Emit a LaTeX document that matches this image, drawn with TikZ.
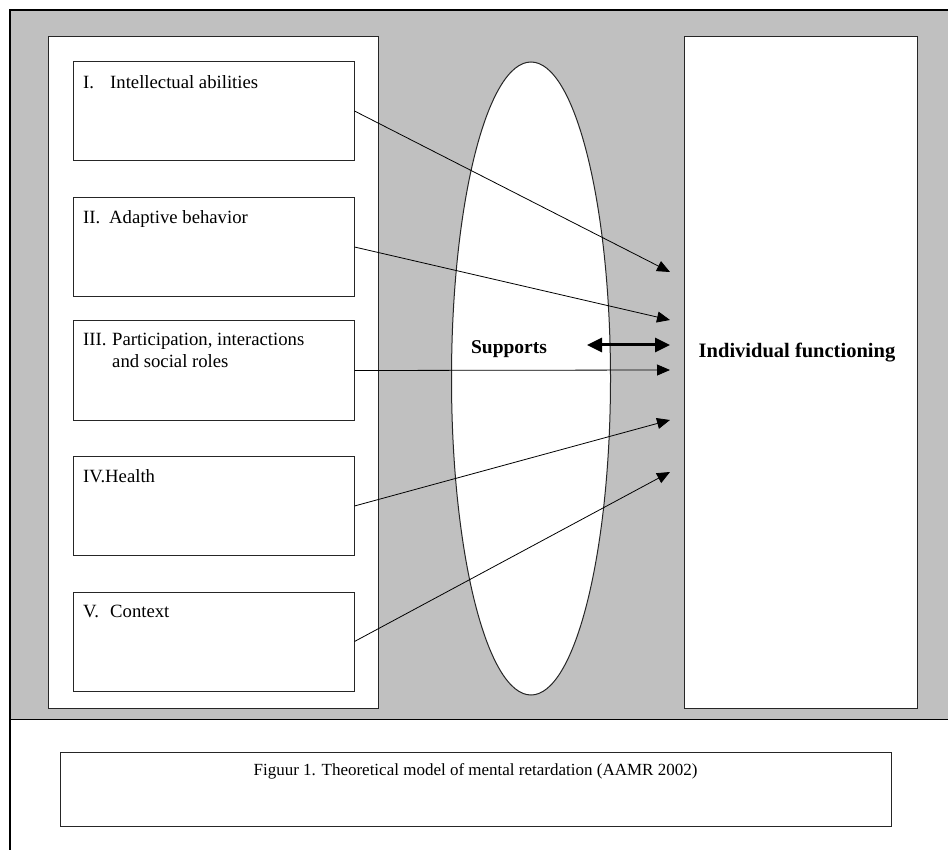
\documentclass[tikz,border=0pt]{standalone}
\usepackage{fontspec}
\setmainfont{Liberation Serif}
\usetikzlibrary{arrows.meta,shapes.geometric}
\definecolor{panelgray}{RGB}{192,192,192}
\tikzset{
	itembox/.style={draw=black!85,fill=white,line width=1pt,minimum width=281pt,minimum height=99pt,inner sep=0pt},
	itemtext/.style={anchor=north west,align=left,inner sep=0pt,font=\fontsize{18.7}{22}\selectfont},
	link/.style={-{Triangle[length=13pt,width=11pt]},line width=0.8pt},
	bigbox/.style={draw=black!85,fill=white,line width=1pt,inner sep=0pt}
}
\begin{document}
\begin{tikzpicture}[x=1pt,y=-1pt]
	\useasboundingbox (0,0) rectangle (948,850);
	\fill[panelgray] (10,10) rectangle (948,719);
	\draw[line width=2pt] (10,850) -- (10,10) -- (948,10);
	\draw[line width=1pt] (10,719) -- (948,719);
	
	\node[bigbox,minimum width=330pt,minimum height=671pt] (factors) at (213,372.5) {};
	\node[bigbox,minimum width=233pt,minimum height=671pt] (outcome) at (800.5,372.5) {};
	\node[draw=black!85,fill=white,ellipse,line width=1pt,minimum width=159pt,minimum height=633pt,inner sep=0pt] (supports) at (531,378.5) {};
	
	\node[itembox] (intel) at (213.5,111) {};
	\node[itembox] (adapt) at (213.5,247) {};
	\node[itembox] (partic) at (213.5,370.5) {};
	\node[itembox] (health) at (213.5,506) {};
	\node[itembox] (context) at (213.5,641.5) {};
	
	\node[itemtext] at (83,75) {\makebox[27pt][l]{I.}Intellectual abilities};
	\node[itemtext] at (83,210) {\makebox[26pt][l]{II.}Adaptive behavior};
	\node[itemtext] at (83,333) {\makebox[29pt][l]{III.}Participation, interactions\\\hspace*{29pt}and social roles};
	\node[itemtext] at (83,469) {IV.Health};
	\node[itemtext] at (83,605) {\makebox[27pt][l]{V.}Context};
	
	\node[font=\fontsize{19.5}{22}\selectfont\bfseries] (suplabel) at (509,349) {Supports};
	\node[font=\fontsize{20.5}{24}\selectfont\bfseries] (funclabel) at (797,353) {Individual functioning};
	
	\coordinate (in1) at (670,272);
	\coordinate (in2) at (670,320);
	\coordinate (in3) at (670,370);
	\coordinate (in4) at (670,420);
	\coordinate (in5) at (670,472);
	\coordinate (dl) at (587,345);
	\coordinate (dr) at (670,345);
	
	\draw[link] (intel.east) -- (in1);
	\draw[link] (adapt.east) -- (in2);
	\draw[link] (partic.east) -- (in3);
	\draw[link] (health.east) -- (in4);
	\draw[link] (context.east) -- (in5);
	\draw[{Triangle[length=15pt,width=14pt]}-{Triangle[length=15pt,width=14pt]},line width=3pt] (dl) -- (dr);
	
	\node[draw=black!85,line width=1pt,minimum width=831pt,minimum height=74pt,inner sep=0pt] (caption) at (475.5,789) {};
	\node[anchor=north,inner sep=0pt,font=\fontsize{17}{20}\selectfont] (captext) at (475.5,763) {Figuur 1. Theoretical model of mental retardation (AAMR 2002)};
\end{tikzpicture}
\end{document}
